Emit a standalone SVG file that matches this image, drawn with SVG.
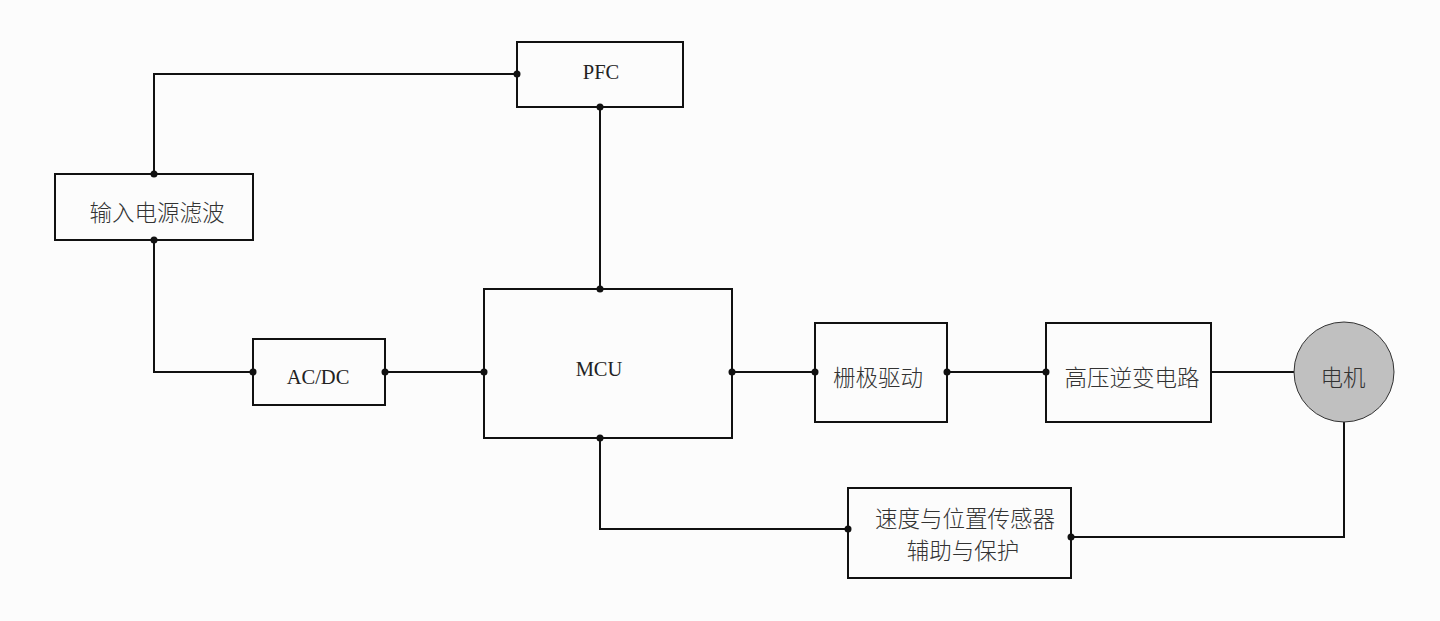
<svg xmlns="http://www.w3.org/2000/svg" width="1440" height="621" viewBox="0 0 1440 621">
<style>
.box{fill:none;stroke:#111;stroke-width:2}
.ln{fill:none;stroke:#111;stroke-width:2}
.dot{fill:#111}
.en{font-family:"Liberation Serif",serif;font-size:20.5px;fill:#222;text-anchor:middle;dominant-baseline:central}
.zh{font-family:"Noto Sans CJK SC","Noto Sans",sans-serif;font-size:22.5px;font-weight:300;fill:#333;text-anchor:middle;dominant-baseline:central}
</style>
<rect width="1440" height="621" fill="#fcfcfc"/>
<g id="connectors">
<polyline class="ln" points="154,174 154,74 517,74"/>
<line class="ln" x1="600" y1="107" x2="600" y2="289"/>
<polyline class="ln" points="154,240 154,372 253,372"/>
<line class="ln" x1="385" y1="372" x2="484" y2="372"/>
<line class="ln" x1="732" y1="372" x2="815" y2="372"/>
<line class="ln" x1="947" y1="372" x2="1046" y2="372"/>
<line class="ln" x1="1211" y1="372" x2="1294" y2="372"/>
<polyline class="ln" points="1344,422 1344,537 1071,537"/>
<polyline class="ln" points="600,438 600,529 848,529"/>
<circle class="dot" cx="154" cy="174" r="3.5"/>
<circle class="dot" cx="517" cy="74" r="3.5"/>
<circle class="dot" cx="600" cy="107" r="3.5"/>
<circle class="dot" cx="600" cy="289" r="3.5"/>
<circle class="dot" cx="154" cy="240" r="3.5"/>
<circle class="dot" cx="253" cy="372" r="3.5"/>
<circle class="dot" cx="385" cy="372" r="3.5"/>
<circle class="dot" cx="484" cy="372" r="3.5"/>
<circle class="dot" cx="732" cy="372" r="3.5"/>
<circle class="dot" cx="815" cy="372" r="3.5"/>
<circle class="dot" cx="947" cy="372" r="3.5"/>
<circle class="dot" cx="1046" cy="372" r="3.5"/>
<circle class="dot" cx="1071" cy="537" r="3.5"/>
<circle class="dot" cx="600" cy="438" r="3.5"/>
<circle class="dot" cx="848" cy="529" r="3.5"/>
</g>
<g id="pfc"><rect class="box" x="517" y="42" width="166" height="65"/><text class="en" x="601" y="72">PFC</text></g>
<g id="filter"><rect class="box" x="55" y="174" width="198" height="66"/><text class="zh" x="157" y="211">输入电源滤波</text></g>
<g id="acdc"><rect class="box" x="253" y="339" width="132" height="66"/><text class="en" x="318" y="377">AC/DC</text></g>
<g id="mcu"><rect class="box" x="484" y="289" width="248" height="149"/><text class="en" x="599" y="369">MCU</text></g>
<g id="gate"><rect class="box" x="815" y="323" width="132" height="99"/><text class="zh" x="878" y="376">栅极驱动</text></g>
<g id="inverter"><rect class="box" x="1046" y="323" width="165" height="99"/><text class="zh" x="1132" y="376">高压逆变电路</text></g>
<g id="motor"><circle cx="1344" cy="372" r="50" fill="#c0c0c0" stroke="#333" stroke-width="1"/><text class="zh" x="1343" y="376">电机</text></g>
<g id="sensor"><rect class="box" x="848" y="488" width="223" height="90"/><text class="zh" x="965" y="517">速度与位置传感器</text><text class="zh" x="963" y="549">辅助与保护</text></g>
</svg>
